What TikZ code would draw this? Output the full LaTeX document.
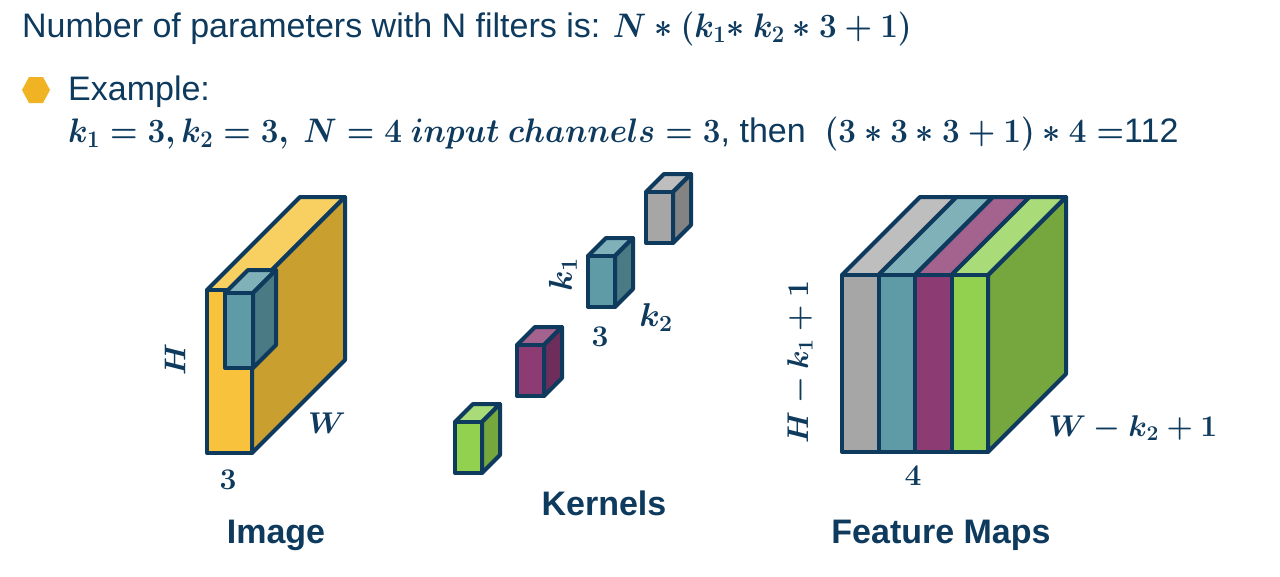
\RequirePackage{fix-cm}
\documentclass[tikz,border=0pt]{standalone}
\usepackage[no-math]{fontspec}
\setmainfont{Liberation Sans}
\usepackage{amsmath}
\usepackage{graphicx}
\definecolor{navy}{HTML}{0E3A5E}
\definecolor{yelF}{HTML}{F9C23C}
\definecolor{yelT}{HTML}{F8D062}
\definecolor{yelS}{HTML}{C9A02F}
\definecolor{teaF}{HTML}{5E9BA6}
\definecolor{teaT}{HTML}{80B1B9}
\definecolor{teaS}{HTML}{4A7B84}
\definecolor{graF}{HTML}{A6A6A6}
\definecolor{graT}{HTML}{BEBEBE}
\definecolor{graS}{HTML}{838383}
\definecolor{purF}{HTML}{8C3B73}
\definecolor{purT}{HTML}{A4628F}
\definecolor{purS}{HTML}{6E2E5B}
\definecolor{greF}{HTML}{92D050}
\definecolor{greT}{HTML}{A9DC78}
\definecolor{greS}{HTML}{76A73F}
\definecolor{bullet}{HTML}{F0B323}
% \cuboid{x}{y}{w}{h}{d}{front}{top}{side}
\newcommand{\cuboid}[8]{%
  \draw[face,fill=#7] (#1,#2) -- ++(#5,-#5) -- ++(#3,0) -- ++(-#5,#5) -- cycle;
  \draw[face,fill=#8] (#1+#3,#2) -- ++(#5,-#5) -- ++(0,#4) -- ++(-#5,#5) -- cycle;
  \draw[face,fill=#6] (#1,#2) rectangle ++(#3,#4);
}
\newcommand{\bm}[1]{\scalebox{0.925}[1]{\boldmath$#1$}}
\begin{document}
\begin{tikzpicture}[x=1pt,y=-1pt,
  face/.style={draw=navy,line width=4pt,line join=round},
  txt/.style={text=navy,inner sep=0pt,font=\fontsize{34}{40}\selectfont},
  lbl/.style={text=navy,inner sep=0pt,font=\fontsize{30}{36}\selectfont\boldmath},
  captxt/.style={text=navy,inner sep=0pt,font=\fontsize{34}{40}\selectfont\bfseries}]
\path[use as bounding box,fill=white] (0,0) rectangle (1280,576);

% header text
\node[txt,anchor=base west] (l1) at (22,37) {Number of parameters with N filters is: \bm{N\ast(k_1{\ast}\ k_2\ast3+1)}};
\fill[bullet] (22,90) -- (29,77) -- (43,77) -- (50,90) -- (43,103) -- (29,103) -- cycle;
\node[txt,anchor=base west] (l2) at (68,100) {Example:};
\node[txt,anchor=base west] (l3) at (68,142) {\bm{k_1=3,k_2=3,\ N=4\ input\ channels=3}, then\ \ \bm{(3\ast3\ast3+1)\ast4=}112};

% Image block
\cuboid{207}{290}{45}{163}{93}{yelF}{yelT}{yelS}
\cuboid{225}{293}{28}{75}{23}{teaF}{teaT}{teaS}
\node[lbl,rotate=90] (H) at (175,360) {$H$};
\node[lbl] (W) at (327,423) {$W$};
\node[lbl] (i3) at (228,480) {$3$};
\node[captxt] (image) at (276,535) {Image};

% Kernels
\cuboid{455}{422}{27}{51}{18}{greF}{greT}{greS}
\cuboid{517}{345}{27}{51}{18}{purF}{purT}{purS}
\cuboid{588}{256}{27}{51}{18}{teaF}{teaT}{teaS}
\cuboid{646}{192}{27}{51}{18}{graF}{graT}{graS}
\node[lbl,rotate=90,font=\fontsize{33}{38}\selectfont\boldmath] (k1) at (563,275) {$k_1$};
\node[lbl] (k3) at (600,337) {$3$};
\node[lbl,font=\fontsize{33}{38}\selectfont\boldmath] (k2) at (656,318) {$k_2$};
\node[captxt] (kernels) at (604,503) {Kernels};

% Feature maps
\draw[face,fill=greS] (988,275) -- ++(78,-78) -- ++(0,177) -- ++(-78,78) -- cycle;
\draw[face,fill=graT] (842,275) -- ++(78,-78) -- ++(36.5,0) -- ++(-78,78) -- cycle;
\draw[face,fill=teaT] (878.5,275) -- ++(78,-78) -- ++(36.5,0) -- ++(-78,78) -- cycle;
\draw[face,fill=purT] (915,275) -- ++(78,-78) -- ++(36.5,0) -- ++(-78,78) -- cycle;
\draw[face,fill=greT] (951.5,275) -- ++(78,-78) -- ++(36.5,0) -- ++(-78,78) -- cycle;
\draw[face,fill=graF] (842,275) rectangle (878.5,452);
\draw[face,fill=teaF] (878.5,275) rectangle (915,452);
\draw[face,fill=purF] (915,275) rectangle (951.5,452);
\draw[face,fill=greF] (951.5,275) rectangle (988,452);
\node[lbl,rotate=90] (hk) at (800,362) {$H-k_1+1$};
\node[lbl] (wk) at (1133,428) {$W-k_2+1$};
\node[lbl] (f4) at (913,476) {$4$};
\node[captxt] (fmaps) at (941,535) {Feature Maps};
\end{tikzpicture}
\end{document}
